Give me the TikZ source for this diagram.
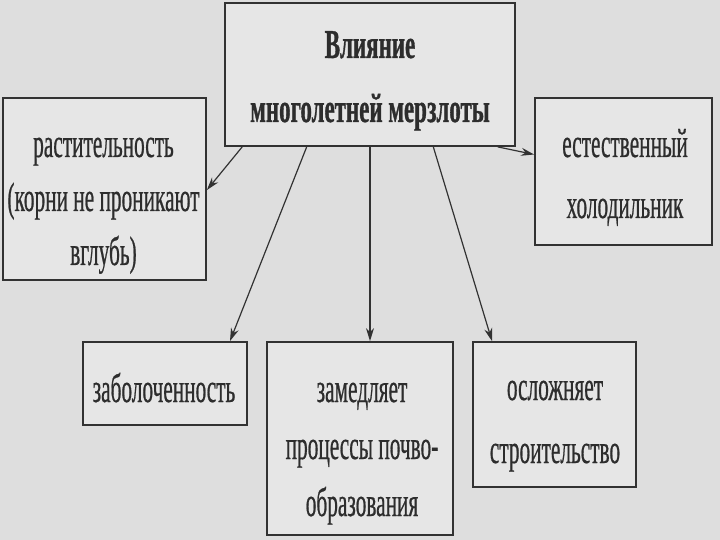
\documentclass[tikz,border=0pt]{standalone}
\usepackage{fontspec}
\setmainfont{Liberation Serif}[UprightFeatures={FakeStretch=0.52,FakeBold=0.5},BoldFeatures={FakeStretch=0.56,FakeBold=0.8}]
\usetikzlibrary{arrows.meta,calc}
\definecolor{bg}{RGB}{222,222,222}
\definecolor{boxfill}{RGB}{230,230,230}
\definecolor{ink}{RGB}{50,50,50}
\definecolor{txt}{RGB}{45,45,45}
\newcommand\mylines[2]{\vtop{\baselineskip=#1pt\lineskiplimit=-100pt\halign{\hfil##\hfil\cr#2\crcr}}}
\begin{document}
\begin{tikzpicture}[x=1pt,y=-1pt,
  box/.style={draw=ink,line width=1.8pt,fill=boxfill,inner sep=0pt},
  lbl/.style={text=txt,anchor=base,inner sep=0pt,font=\fontsize{41}{41}\selectfont},
  conn/.style={draw=ink,line width=1.2pt,-{Stealth[length=13pt,width=8pt]}}]
\fill[bg] (0,0) rectangle (720,540);
\useasboundingbox (0,0) rectangle (720,540);
% boxes
\node[box,minimum width=290pt,minimum height=143pt] (top) at (370,74.5) {};
\node[box,minimum width=203pt,minimum height=182pt] (left) at (104.5,189) {};
\node[box,minimum width=177pt,minimum height=147pt] (right) at (623.5,171.5) {};
\node[box,minimum width=164pt,minimum height=83pt] (bog) at (165,383.5) {};
\node[box,minimum width=186pt,minimum height=193pt] (soil) at (360,438.5) {};
\node[box,minimum width=163pt,minimum height=145pt] (build) at (554.5,414.5) {};
% texts
\node[lbl,font=\bfseries\fontsize{41}{41}\selectfont] (toptext) at (370,58) {\mylines{64}{Влияние\cr многолетней мерзлоты}};
\node[lbl] (lefttext) at (103.5,157) {\mylines{54}{растительность\cr (корни не проникают\cr вглубь)}};
\node[lbl] (righttext) at (625,157) {\mylines{61}{естественный\cr холодильник}};
\node[lbl] (bogtext) at (164,402) {заболоченность};
\node[lbl] (soiltext) at (362,402) {\mylines{57}{замедляет\cr процессы почво-\cr образования}};
\node[lbl] (buildtext) at (555,400) {\mylines{63}{осложняет\cr строительство}};
% connectors
\path[conn] ($(top.south west)!0.062!(top.south east)$) -- ([yshift=-1pt]left.east);
\path[conn] ($(top.south west)!0.283!(top.south east)$) -- ([xshift=65pt]bog.north);
\path[conn] ($(top.south west)!0.5!(top.south east)$) -- ([xshift=10pt]soil.north);
\path[conn] ($(top.south west)!0.717!(top.south east)$) -- ([xshift=-62.5pt]build.north);
\path[conn] ($(top.south west)!0.938!(top.south east)$) -- ([yshift=17pt]right.west);
\end{tikzpicture}
\end{document}
